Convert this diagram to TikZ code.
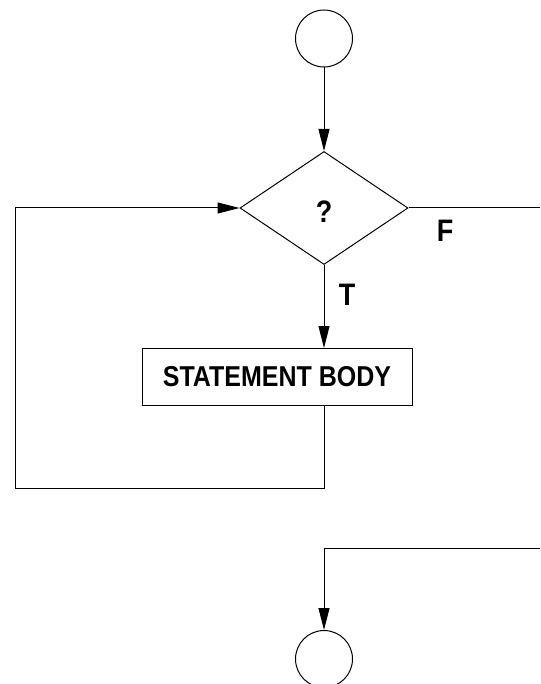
\documentclass[tikz,border=0pt]{standalone}
\usepackage{fontspec}
\usepackage{graphicx}
\setmainfont{Liberation Sans}
\usetikzlibrary{shapes.geometric,arrows.meta}
\newcommand{\tallbf}[1]{\scalebox{1}[1.15]{#1}}
\begin{document}
\begin{tikzpicture}[x=1pt,y=-1pt,
  line width=1pt,
  every node/.style={font=\bfseries\fontsize{25}{28}\selectfont},
  term/.style={draw,circle,minimum size=57pt,inner sep=0pt},
  decision/.style={draw,diamond,minimum width=168pt,minimum height=113pt,inner sep=0pt},
  stmt/.style={draw,rectangle,minimum width=270pt,minimum height=57pt,inner sep=0pt},
  flow/.style={-{Triangle[length=22pt,width=11pt]}},
  lbl/.style={inner sep=0pt,font=\bfseries\fontsize{27}{30}\selectfont}]
\useasboundingbox (0,0) rectangle (540,684);
\node[term] (start) at (324,38.5) {};
\node[decision] (dia) at (324,208) {};
\node[lbl] (q) at (324,212) {\tallbf{?}};
\node[stmt] (body) at (277,377) {\tallbf{STATEMENT BODY}};
\node[term] (stop) at (324,659) {};
\node[lbl] (F) at (445,231) {\tallbf{F}};
\node[lbl] (T) at (347,295) {\tallbf{T}};
\coordinate (loopA) at (324,488);
\coordinate (loopB) at (15,488);
\coordinate (loopC) at (15,208);
\coordinate (fexit) at (540,208);
\coordinate (fentry) at (540,548);
\coordinate (fturn) at (324,548);
\draw[flow] (start) -- (dia.north);
\draw[flow] (dia.south) -- (dia.south |- body.north);
\draw[flow] (dia.south |- body.south) -- (loopA) -- (loopB) -- (loopC) -- (dia.west);
\draw (dia.east) -- (fexit);
\draw[flow] (fentry) -- (fturn) -- (stop.north);
\end{tikzpicture}
\end{document}
